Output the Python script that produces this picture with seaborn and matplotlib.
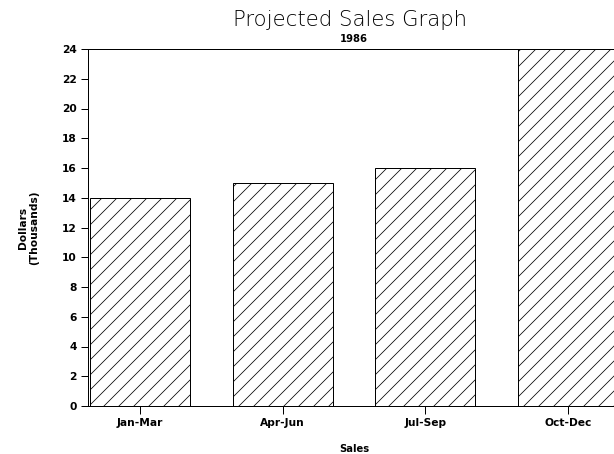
import matplotlib
matplotlib.use("Agg")
import matplotlib.pyplot as plt
import seaborn as sns
import pandas as pd

quarters = ["Jan-Mar", "Apr-Jun", "Jul-Sep", "Oct-Dec"]
sales = [14, 15, 16, 24]
yticks = list(range(0, 25, 2))

sns.set_style("ticks")
plt.rcParams["font.family"] = ["DejaVu Sans"]
plt.rcParams["hatch.linewidth"] = 0.6
plt.rcParams["text.color"] = "black"
plt.rcParams["axes.labelcolor"] = "black"

DPI = 90
W, H = 614, 454
fig = plt.figure(figsize=(W / DPI, H / DPI), dpi=DPI)
fig.patch.set_facecolor("white")
ax = fig.add_axes([88 / W, (454 - 406) / H, (620 - 88) / W, 357 / H])

df = pd.DataFrame({"Quarter": quarters, "Sales": sales})
sns.barplot(data=df, x="Quarter", y="Sales", ax=ax, color="white",
            edgecolor="black", linewidth=0.8, hatch="//", width=0.70,
            saturation=1)

ax.set_xlim(-0.364, 3.364)
ax.set_ylim(0, 24)
ax.set_yticks(yticks)
ax.set_yticklabels([str(v) for v in yticks], fontsize=8.5, fontweight="bold")
ax.set_xticks(range(len(quarters)))
ax.set_xticklabels(quarters, fontsize=8.5, fontweight="bold")
ax.tick_params(axis="both", direction="out", length=6, width=0.8,
               colors="black", labelcolor="black")
ax.tick_params(axis="x", pad=4)
ax.tick_params(axis="y", pad=3)

for s in ["left", "top", "bottom"]:
    ax.spines[s].set_visible(True)
    ax.spines[s].set_linewidth(0.8)
    ax.spines[s].set_color("black")
ax.spines["right"].set_visible(False)

ax.set_xlabel("Sales", fontsize=8, fontweight="bold", labelpad=12, color="black")
ax.set_ylabel("Dollars\n(Thousands)", fontsize=8.5, fontweight="bold",
              labelpad=18, color="black")

fig.text(350 / W, 1 - 20 / H, "Projected Sales Graph", ha="center", va="center",
         fontsize=17, fontweight="light", color="black",
         family=["DejaVu Sans"])
fig.text(354 / W, 1 - 39 / H, "1986", ha="center", va="center",
         fontsize=8, fontweight="bold", color="black")

fig.savefig("out.png", dpi=DPI, facecolor="white")
